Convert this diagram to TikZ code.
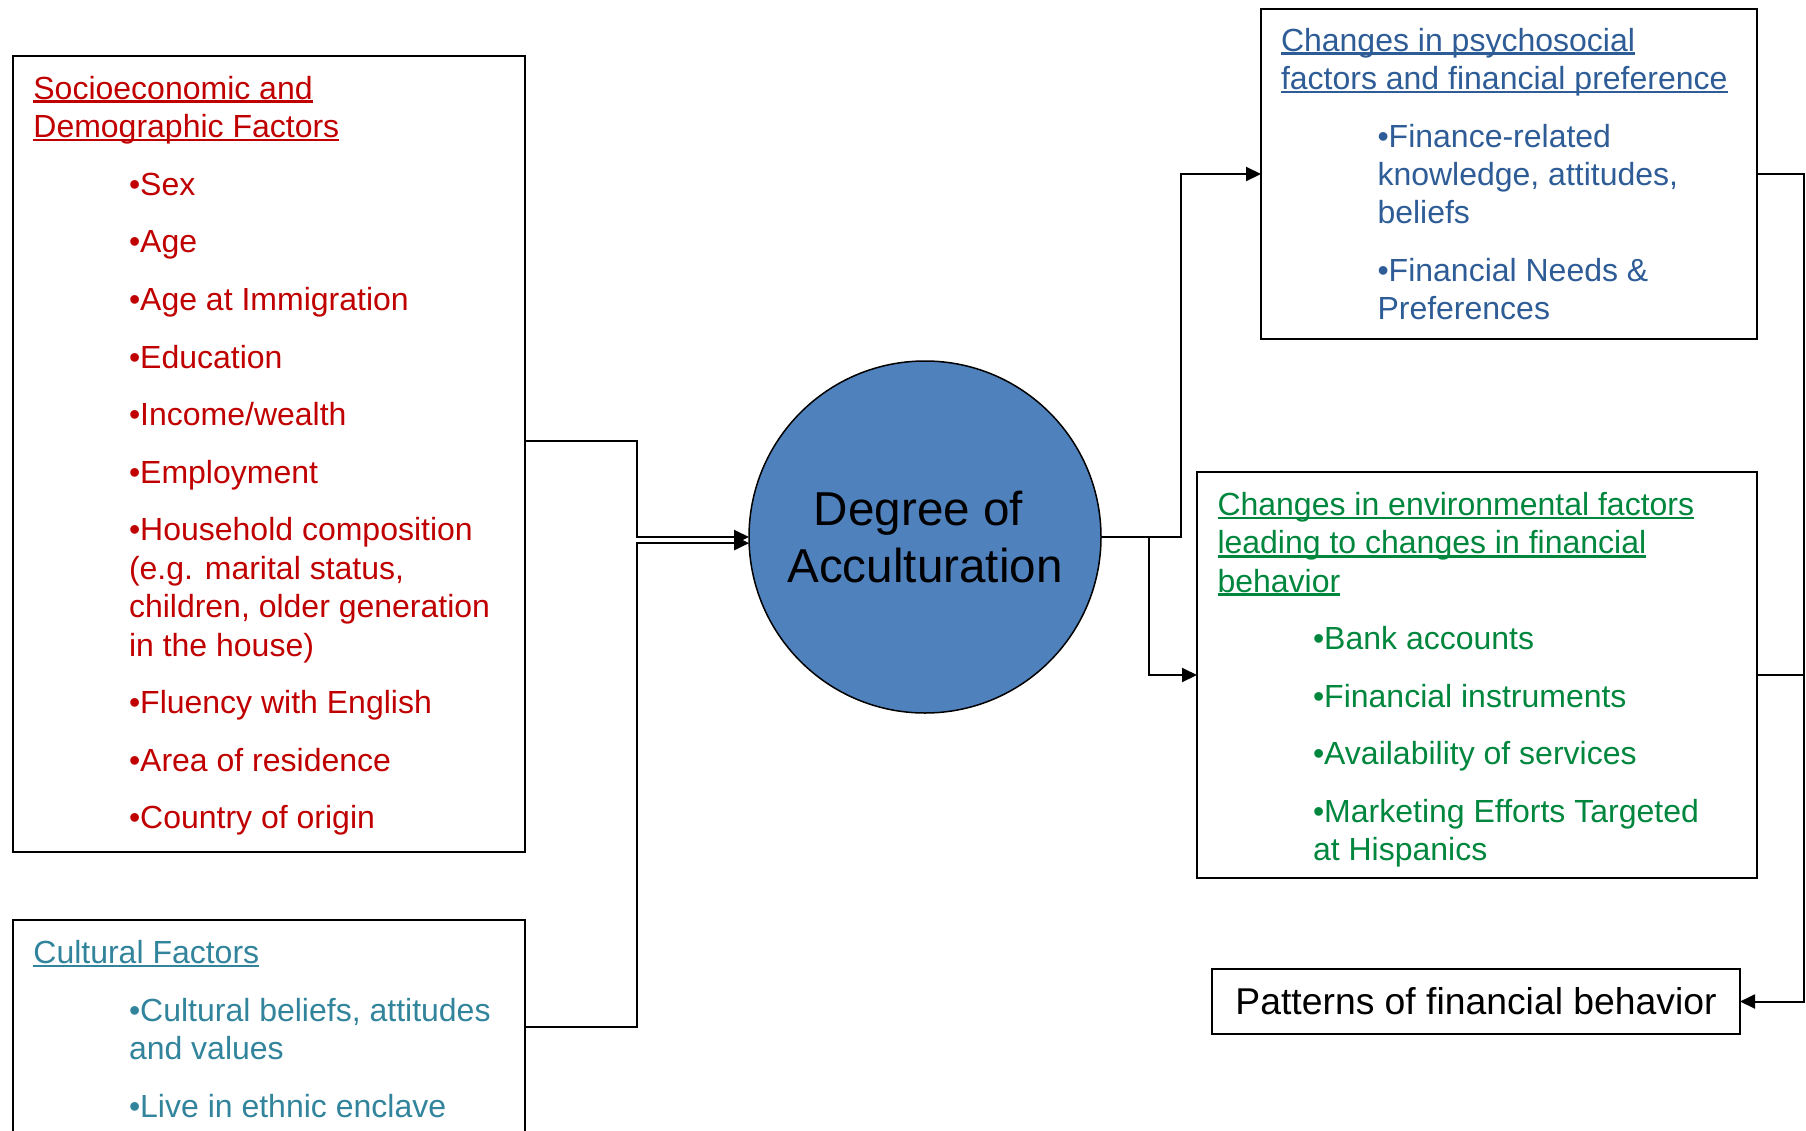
\documentclass[tikz,border=0pt]{standalone}
\usepackage{fontspec}
\setmainfont{Liberation Sans}
\usetikzlibrary{arrows.meta}
\definecolor{sred}{HTML}{C00000}
\definecolor{sblue}{HTML}{2E5C96}
\definecolor{steal}{HTML}{31849B}
\definecolor{sgreen}{HTML}{00863D}
\definecolor{cfill}{HTML}{4F81BD}
\newsavebox{\myulbox}
\newcommand\myul[1]{\sbox{\myulbox}{#1}\rlap{\rule[-3.8pt]{\wd\myulbox}{2.6pt}}\usebox{\myulbox}}
\begin{document}
\begin{tikzpicture}[x=1pt,y=-1pt,
  box/.style={draw, line width=2pt, inner sep=0pt, outer sep=0pt, anchor=north west},
  txt/.style={anchor=base west, inner sep=0pt, outer sep=0pt, font=\fontsize{32}{38.4}\selectfont},
  conn/.style={line width=2pt},
  arr/.style={-{Triangle[length=15pt,width=14pt]}}]
\useasboundingbox (0,0) rectangle (1806,1130);

% boxes
\node[box, minimum width=512.3pt, minimum height=796pt] (socio) at (12.7,56) {};
\node[box, minimum width=512.3pt, minimum height=214pt] (cult) at (12.7,920) {};
\node[box, minimum width=496pt, minimum height=330pt] (psych) at (1261,9) {};
\node[box, minimum width=560pt, minimum height=406pt] (env) at (1197,472) {};
\node[draw, line width=2pt, inner sep=0pt, outer sep=0pt, minimum width=528pt, minimum height=65pt,
      font=\fontsize{37.3}{44}\selectfont] (pat) at (1476,1001.5) {Patterns of financial behavior};
\node[circle, draw, line width=1.5pt, fill=cfill, inner sep=0pt, outer sep=0pt, minimum size=352pt,
      align=center, font=\fontsize{47.6}{57.6}\selectfont] (circ) at (925,537) {Degree of\kern13.2pt\\Acculturation};

% socioeconomic text
\begin{scope}[every node/.style={txt, text=sred}]
\node (s0) at (33.4,99.2) {\myul{Socioeconomic and}};
\node (s1) at (33.4,137.6) {\myul{Demographic Factors}};
\node (s2) at (129,195.2) {•Sex};
\node (s3) at (129,252.8) {•Age};
\node (s4) at (129,310.4) {•Age at Immigration};
\node (s5) at (129,368) {•Education};
\node (s6) at (129,425.6) {•Income/wealth};
\node (s7) at (129,483.2) {•Employment};
\node (s8) at (129,540.8) {•Household composition};
\node (s9) at (129,579.2) {(e.g. marital status,};
\node (s10) at (129,617.6) {children, older generation};
\node (s11) at (129,656) {in the house)};
\node (s12) at (129,713.6) {•Fluency with English};
\node (s13) at (129,771.2) {•Area of residence};
\node (s14) at (129,828.8) {•Country of origin};
\end{scope}

% cultural text
\begin{scope}[every node/.style={txt, text=steal}]
\node (c0) at (33.4,963.4) {\myul{Cultural Factors}};
\node (c1) at (129,1021) {•Cultural beliefs, attitudes};
\node (c2) at (129,1059.4) {and values};
\node (c3) at (129,1117) {•Live in ethnic enclave};
\end{scope}

% psychosocial text
\begin{scope}[every node/.style={txt, text=sblue}]
\node (p0) at (1281,51.1) {\myul{Changes in psychosocial}};
\node (p1) at (1281,89.5) {\myul{factors and financial preference}};
\node (p2) at (1377.5,147.1) {•Finance-related};
\node (p3) at (1377.5,185.5) {knowledge, attitudes,};
\node (p4) at (1377.5,223.9) {beliefs};
\node (p5) at (1377.5,281.5) {•Financial Needs \&};
\node (p6) at (1377.5,319.9) {Preferences};
\end{scope}

% environmental text
\begin{scope}[every node/.style={txt, text=sgreen}]
\node (e0) at (1217.5,515.3) {\myul{Changes in environmental factors}};
\node (e1) at (1217.5,553.7) {\myul{leading to changes in financial}};
\node (e2) at (1217.5,592.1) {\myul{behavior}};
\node (e3) at (1313,649.7) {•Bank accounts};
\node (e4) at (1313,707.3) {•Financial instruments};
\node (e5) at (1313,764.9) {•Availability of services};
\node (e6) at (1313,822.5) {•Marketing Efforts Targeted};
\node (e7) at (1313,860.9) {at Hispanics};
\end{scope}

% connectors
\draw[conn,arr] ([yshift=13pt]socio.east) -- ++(112,0) |- (circ.west);
\draw[conn,arr] (cult.east) -- ++(112,0) |- (circ.182.6);
\draw[conn,arr] (circ.east) -- ++(80,0) |- (psych.west);
\draw[conn,arr] ([xshift=48pt]circ.east) |- (env.west);
\draw[conn,arr] (psych.east) -- ++(47,0) |- (pat.east);
\draw[conn] (env.east) -- ++(47,0);
\end{tikzpicture}
\end{document}
